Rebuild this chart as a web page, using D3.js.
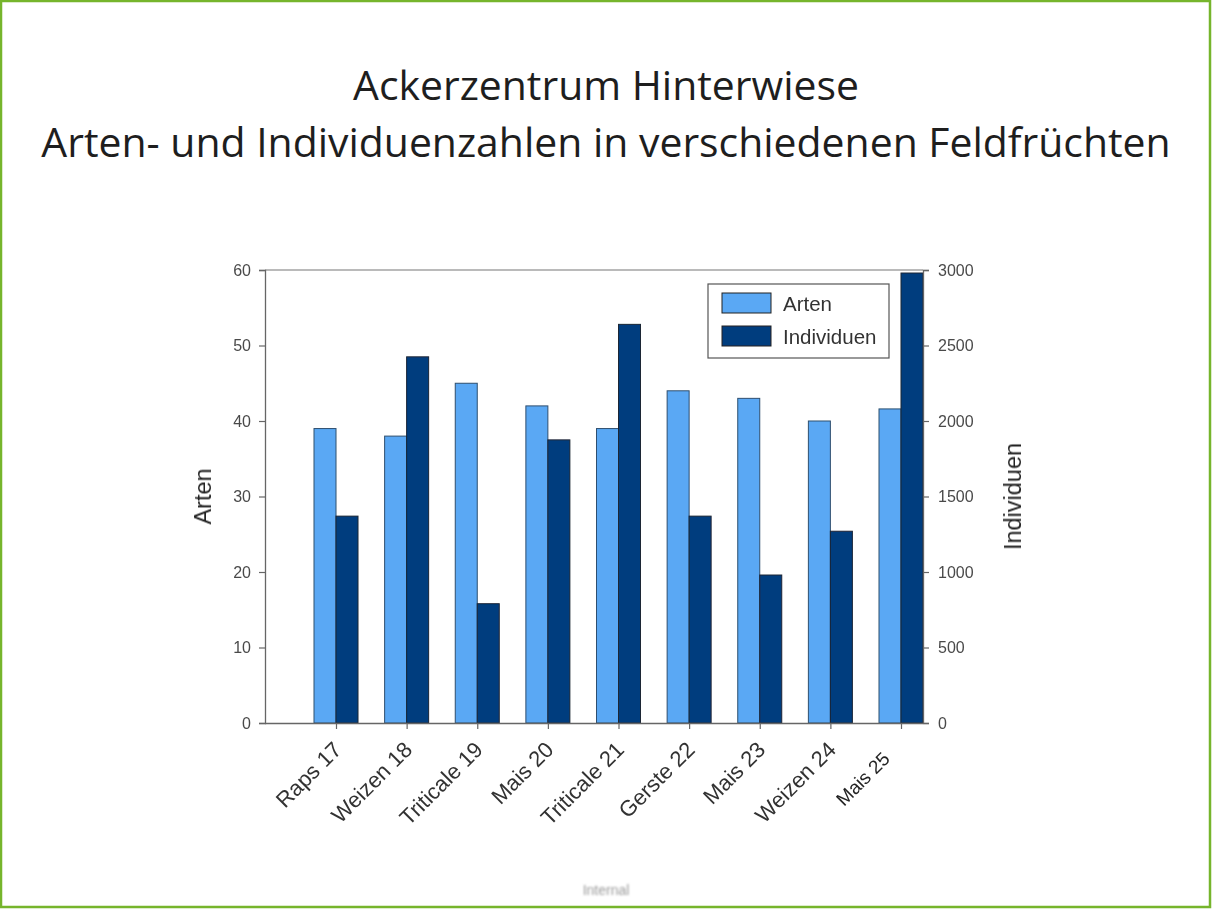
<!DOCTYPE html>
<html>
<head>
<meta charset="utf-8">
<script src="https://cdn.jsdelivr.net/npm/d3@7"></script>
<style>
  html, body { margin: 0; padding: 0; background: #fff; }
  svg { display: block; }
</style>
</head>
<body>
<svg id="chart" width="1212" height="909"></svg>
<script>
// Field crops sampled per year
const categories = ["Raps 17", "Weizen 18", "Triticale 19", "Mais 20", "Triticale 21", "Gerste 22", "Mais 23", "Weizen 24", "Mais 25"];
// Number of species (left axis)
const arten = [39, 38, 45, 42, 39, 44, 43, 40, 41.6];
// Number of individuals (right axis)
const individuen = [1370, 2425, 790, 1875, 2640, 1370, 980, 1270, 2980];
const artenTicks = [0, 10, 20, 30, 40, 50, 60];
const individuenTicks = [0, 500, 1000, 1500, 2000, 2500, 3000];
const seriesNames = ["Arten", "Individuen"];
const titleLines = ["Ackerzentrum Hinterwiese", "Arten- und Individuenzahlen in verschiedenen Feldfrüchten"];

const colorLight = "#5aa8f4";
const colorDark = "#023d7e";

const svg = d3.select("#chart");

// slide frame
svg.append("rect")
  .attr("x", 1).attr("y", 1).attr("width", 1209).attr("height", 906)
  .attr("fill", "none").attr("stroke", "#76b52c").attr("stroke-width", 2.5);

// title
const titleFont = "'Open Sans', 'Noto Sans', sans-serif";
const tWidths = [506, 1130];
titleLines.forEach((t, i) => {
  const el = svg.append("text")
    .attr("x", 606).attr("y", i === 0 ? 100 : 157)
    .attr("text-anchor", "middle")
    .attr("font-family", titleFont)
    .attr("font-size", 34)
    .attr("fill", "#1e1e1e")
    .text(t);
  const w = el.node().getComputedTextLength();
  el.attr("font-size", 34 * tWidths[i] / w);
});

// plot area
const plotLeft = 265, plotRight = 923, plotTop = 270, plotBottom = 723;

const x = d3.scalePoint().domain(categories).range([336, 901]);
const yL = d3.scaleLinear().domain([0, 60]).range([plotBottom, plotTop]);
const yR = d3.scaleLinear().domain([0, 3000]).range([plotBottom, plotTop]);
const bw = 22;

const defs = svg.append("defs");
defs.append("filter").attr("id", "soft")
  .append("feGaussianBlur").attr("stdDeviation", 0.45);
defs.append("filter").attr("id", "softer")
  .append("feGaussianBlur").attr("stdDeviation", 0.9);

const g = svg.append("g").attr("filter", "url(#soft)");

// bars
g.selectAll("rect.arten").data(categories).join("rect")
  .attr("class", "arten")
  .attr("x", d => x(d) - bw)
  .attr("y", (d, i) => yL(arten[i]))
  .attr("width", bw)
  .attr("height", (d, i) => yL(0) - yL(arten[i]))
  .attr("fill", colorLight)
  .attr("stroke", "#2f4f6f").attr("stroke-width", 1);

g.selectAll("rect.ind").data(categories).join("rect")
  .attr("class", "ind")
  .attr("x", d => x(d))
  .attr("y", (d, i) => yR(individuen[i]))
  .attr("width", bw)
  .attr("height", (d, i) => yR(0) - yR(individuen[i]))
  .attr("fill", colorDark)
  .attr("stroke", "#1a2535").attr("stroke-width", 1);

// top frame line
g.append("line").attr("x1", plotLeft).attr("x2", plotRight).attr("y1", plotTop).attr("y2", plotTop)
  .attr("stroke", "#777").attr("stroke-width", 1.2);

const tickFont = "'Liberation Sans', Arial, sans-serif";

// left axis
const axL = g.append("g").attr("transform", `translate(${plotLeft},0)`)
  .call(d3.axisLeft(yL).tickValues(artenTicks).tickSize(6).tickPadding(8));
// right axis
const axR = g.append("g").attr("transform", `translate(${plotRight},0)`)
  .call(d3.axisRight(yR).tickValues(individuenTicks).tickFormat(d3.format("d")).tickSize(6).tickPadding(9));
// bottom axis
const axB = g.append("g").attr("transform", `translate(0,${plotBottom})`)
  .call(d3.axisBottom(x).tickSize(6).tickSizeOuter(0).tickFormat(""));
axB.select(".domain").attr("d", `M${plotLeft},0.5H${plotRight}`);

[axL, axR, axB].forEach(a => {
  a.select(".domain").attr("stroke", "#666").attr("stroke-width", 1.3);
  a.selectAll(".tick line").attr("stroke", "#666").attr("stroke-width", 1.2);
  a.selectAll("text").attr("font-family", tickFont).attr("font-size", 16).attr("fill", "#4a4a4a");
});

// category labels
const last = categories.length - 1;
g.selectAll("text.cat").data(categories).join("text")
  .attr("class", "cat")
  .attr("transform", (d, i) => i === last
      ? `translate(${x(d) - 10},${plotBottom + 37}) rotate(-45)`
      : `translate(${x(d) + 7},${plotBottom + 28}) rotate(-45)`)
  .attr("text-anchor", "end")
  .attr("font-family", tickFont)
  .attr("font-size", (d, i) => i === last ? 19 : 22)
  .attr("fill", (d, i) => i === last ? "#222" : "#333")
  .text(d => d);

// axis titles
g.append("text")
  .attr("transform", `translate(211,${(plotTop + plotBottom) / 2}) rotate(-90)`)
  .attr("text-anchor", "middle")
  .attr("font-family", tickFont).attr("font-size", 23.5).attr("fill", "#222")
  .text("Arten");
g.append("text")
  .attr("transform", `translate(1021,${(plotTop + plotBottom) / 2}) rotate(-90)`)
  .attr("text-anchor", "middle")
  .attr("font-family", tickFont).attr("font-size", 23.5).attr("fill", "#222")
  .text("Individuen");

// legend
const lg = g.append("g").attr("transform", "translate(708,284)");
lg.append("rect").attr("width", 181).attr("height", 74)
  .attr("fill", "#fff").attr("stroke", "#555").attr("stroke-width", 1.2);
const legendColors = [colorLight, colorDark];
seriesNames.forEach((s, i) => {
  lg.append("rect").attr("x", 14).attr("y", 9 + i * 33).attr("width", 49).attr("height", 20)
    .attr("fill", legendColors[i]).attr("stroke", "#222").attr("stroke-width", 1);
  lg.append("text").attr("x", 75).attr("y", 27 + i * 33)
    .attr("font-family", tickFont).attr("font-size", 20.5).attr("fill", "#333")
    .text(s);
});

// footer mark
svg.append("text")
  .attr("x", 606).attr("y", 895).attr("text-anchor", "middle")
  .attr("font-family", tickFont).attr("font-size", 14).attr("fill", "#9a9a9a")
  .attr("filter", "url(#softer)")
  .text("Internal");
</script>
</body>
</html>
